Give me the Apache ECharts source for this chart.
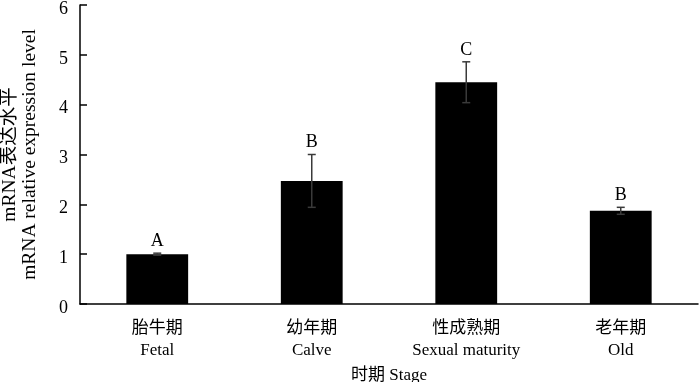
<!DOCTYPE html>
<html><head><meta charset="utf-8">
<script src="https://cdn.jsdelivr.net/npm/echarts@6/dist/echarts.min.js"></script>
<style>html,body{margin:0;padding:0;background:#fff}#c{width:700px;height:382px}</style>
</head><body><div id="c"></div>
<script>
var categoriesCN = ['胎牛期', '幼年期', '性成熟期', '老年期'];
var categoriesEN = ['Fetal', 'Calve', 'Sexual maturity', 'Old'];
var values = [1.00, 2.47, 4.45, 1.87];
var errors = [0.02, 0.53, 0.41, 0.07];
var letters = ['A', 'B', 'C', 'B'];
var yTicks = [0, 1, 2, 3, 4, 5, 6];

var FONT = '"Liberation Serif", "Times New Roman", "Noto Sans CJK SC", serif';
var chart = echarts.init(document.getElementById('c'), null, {renderer: 'canvas'});
var cats = categoriesCN.map(function (c, i) { return c + '\n' + categoriesEN[i]; });
chart.setOption({
  animation: false,
  backgroundColor: '#fff',
  grid: {left: 80, right: 2, top: 5, bottom: 78, containLabel: false, outerBoundsMode: 'none'},
  xAxis: {
    type: 'category', data: cats,
    name: '时期 Stage', nameLocation: 'middle', nameGap: 58,
    nameTextStyle: {fontFamily: FONT, fontSize: 17, color: '#000'},
    axisLine: {lineStyle: {color: '#000', width: 1.5}},
    axisTick: {inside: true, length: 7, lineStyle: {color: '#000', width: 1.5}},
    axisLabel: {fontFamily: FONT, fontSize: 17, color: '#000', lineHeight: 22, margin: 14}
  },
  yAxis: {
    type: 'value', min: yTicks[0], max: yTicks[yTicks.length - 1], interval: 1,
    name: 'mRNA表达水平\nmRNA relative expression level', nameLocation: 'middle', nameGap: 40,
    nameTextStyle: {fontFamily: FONT, fontSize: 19.5, color: '#000', lineHeight: 20},
    axisLine: {show: true, lineStyle: {color: '#000', width: 1.5}},
    axisTick: {show: true, inside: true, length: 7, lineStyle: {color: '#000', width: 1.5}},
    axisLabel: {
      margin: 12,
      formatter: function (v) { return '{a|' + v + '}'; },
      rich: {a: {fontFamily: FONT, fontSize: 18, color: '#000', padding: [8, 0, 0, 0]}}
    },
    splitLine: {show: false}
  },
  series: [{
    type: 'bar', data: values, barWidth: '40%',
    itemStyle: {color: '#000'}
  }, {
    type: 'custom',
    data: values.map(function (v, i) { return [i, v, errors[i], letters[i]]; }),
    renderItem: function (params, api) {
      var x = api.coord([api.value(0), 0])[0];
      var top = api.coord([api.value(0), api.value(1) + api.value(2)])[1];
      var bot = api.coord([api.value(0), api.value(1) - api.value(2)])[1];
      var hw = 4;
      var st = {stroke: '#3a3a3a', lineWidth: 1.5};
      return {type: 'group', children: [
        {type: 'line', shape: {x1: x, y1: top, x2: x, y2: bot}, style: st},
        {type: 'line', shape: {x1: x - hw, y1: top, x2: x + hw, y2: top}, style: st},
        {type: 'line', shape: {x1: x - hw, y1: bot, x2: x + hw, y2: bot}, style: st},
        {type: 'text', style: {text: letters[params.dataIndex], x: x, y: top - 3,
          textAlign: 'center', textVerticalAlign: 'bottom', fill: '#000',
          font: '18px ' + FONT}}
      ]};
    },
    z: 5
  }]
});
</script></body></html>
